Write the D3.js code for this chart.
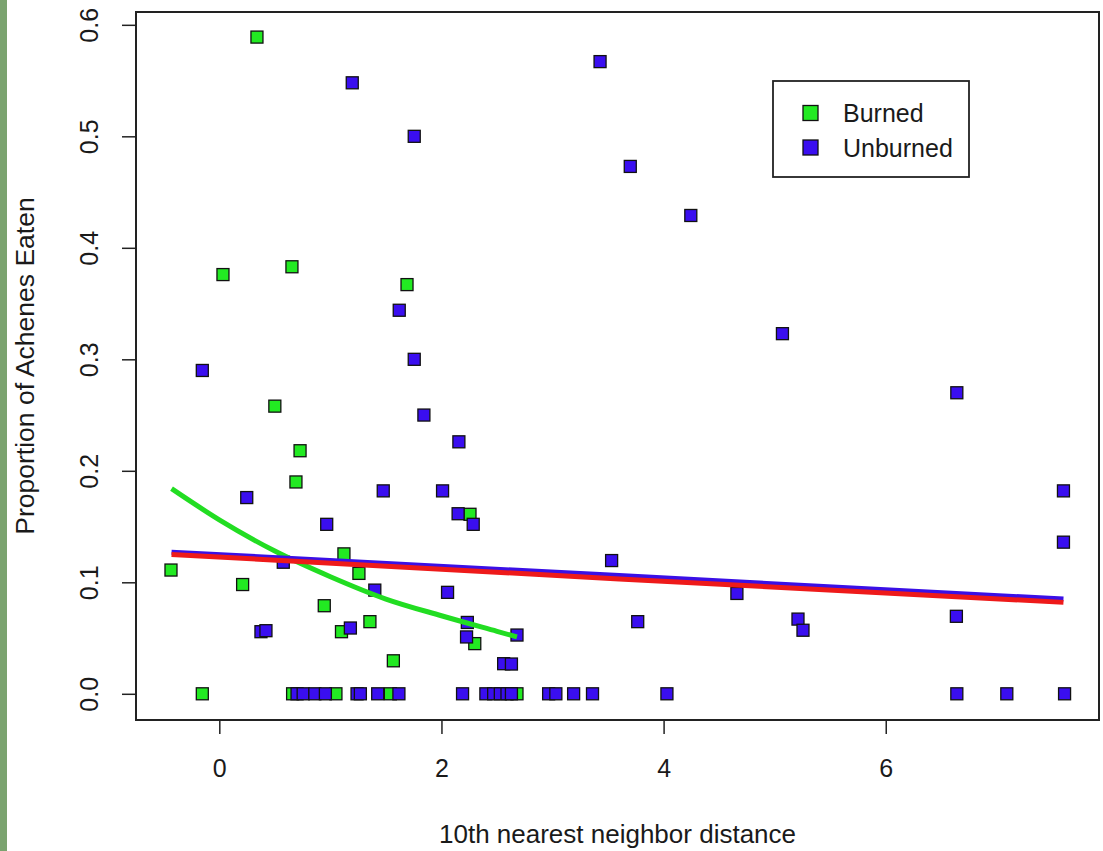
<!DOCTYPE html>
<html>
<head>
<meta charset="utf-8">
<script src="https://cdn.jsdelivr.net/npm/d3@7"></script>
<style>
  html, body { margin: 0; padding: 0; background: #ffffff; }
  svg text { font-family: "Liberation Sans", Arial, sans-serif; fill: #1a1a1a; }
</style>
</head>
<body>
<svg id="chart" width="1103" height="851"></svg>
<script>
// ---- data ----
const burnedX = [0.339, 0.033, 0.654, 1.69, 0.50, 0.727, 0.69, 2.257, 1.122, -0.435, 0.21, 1.257, 0.945, 1.10, 1.356, 1.567, 2.30,
                 -0.153, 0.66, 1.05, 1.54, 2.68];
const burnedY = [0.589, 0.376, 0.383, 0.367, 0.258, 0.218, 0.190, 0.161, 0.1255, 0.111, 0.098, 0.108, 0.079, 0.0557, 0.0647, 0.0296, 0.045,
                 0, 0, 0, 0, 0];

const unburnedX = [1.197, 1.755, 3.428, 3.70, 4.245, 5.07, 6.64, 1.62, 1.755, 1.842, -0.153, 2.157, 0.247, 1.476, 2.01, 2.15, 2.286, 0.967,
                   7.6, 7.6, 3.532, 0.576, 1.40, 2.055, 4.66, 0.375, 0.42, 1.18, 2.233, 2.226, 2.68, 3.767, 5.21, 5.255, 6.636, 2.56, 2.63,
                   0.70, 0.755, 0.86, 0.955, 1.24, 1.27, 1.426, 1.617, 2.19, 2.40, 2.47, 2.53, 2.59, 2.63, 2.965, 3.03, 3.19, 3.36, 4.03, 6.64, 7.09, 7.61];
const unburnedY = [0.548, 0.500, 0.567, 0.473, 0.429, 0.323, 0.270, 0.344, 0.300, 0.250, 0.290, 0.226, 0.176, 0.182, 0.182, 0.1615, 0.152, 0.152,
                   0.182, 0.136, 0.1195, 0.118, 0.093, 0.091, 0.090, 0.0557, 0.0566, 0.059, 0.064, 0.051, 0.0527, 0.0647, 0.067, 0.057, 0.0695, 0.027, 0.0267,
                   0, 0, 0, 0, 0, 0, 0, 0, 0, 0, 0, 0, 0, 0, 0, 0, 0, 0, 0, 0, 0, 0];

// fitted curves
const burnedFitX = [-0.43, 0.0, 0.5, 1.0, 1.5, 2.0, 2.5, 2.68];
const burnedFitY = [0.184, 0.156, 0.128, 0.105, 0.085, 0.070, 0.056, 0.051];
const unburnedFitX = [-0.43, 3.6, 7.6];
const unburnedFitY = [0.127, 0.106, 0.085];
const allFitX = [-0.43, 3.6, 7.6];
const allFitY = [0.125, 0.103, 0.082];

const xTicks = [0, 2, 4, 6];
const yTicks = [0.0, 0.1, 0.2, 0.3, 0.4, 0.5, 0.6];
const legendLabels = ["Burned", "Unburned"];

// ---- layout ----
const svg = d3.select("#chart");
const pL = 136, pR = 1099, pT = 12, pB = 720;
const x = d3.scaleLinear().domain([-0.75, 7.92]).range([pL, pR]);
const y = d3.scaleLinear().domain([-0.0235, 0.6115]).range([pB, pT]);

const greenFill = "#22ea22", blueFill = "#3a0ef0";

// left green strip
svg.append("rect").attr("x", 0).attr("y", 0).attr("width", 7).attr("height", 851).attr("fill", "#7ba36f");

// points
const sq = 12;
function drawPoints(xs, ys, fill) {
  svg.append("g").selectAll("rect").data(xs.map((d, i) => [d, ys[i]])).join("rect")
    .attr("x", d => x(d[0]) - sq / 2)
    .attr("y", d => y(d[1]) - sq / 2)
    .attr("width", sq).attr("height", sq)
    .attr("fill", fill).attr("stroke", "#111").attr("stroke-width", 1.3);
}
drawPoints(burnedX, burnedY, greenFill);
drawPoints(unburnedX, unburnedY, blueFill);

// fit lines
svg.append("path").datum(burnedFitX.map((d, i) => [d, burnedFitY[i]]))
  .attr("d", d3.line().x(d => x(d[0])).y(d => y(d[1])).curve(d3.curveMonotoneX))
  .attr("fill", "none").attr("stroke", "#22dd22").attr("stroke-width", 5);
svg.append("path").datum(unburnedFitX.map((d, i) => [d, unburnedFitY[i]]))
  .attr("d", d3.line().x(d => x(d[0])).y(d => y(d[1]))).attr("fill", "none").attr("stroke", "#3a10e6").attr("stroke-width", 5);
svg.append("path").datum(allFitX.map((d, i) => [d, allFitY[i]]))
  .attr("d", d3.line().x(d => x(d[0])).y(d => y(d[1]))).attr("fill", "none").attr("stroke", "#ee1a1a").attr("stroke-width", 5);

// box
svg.append("rect").attr("x", pL).attr("y", pT).attr("width", pR - pL).attr("height", pB - pT)
  .attr("fill", "none").attr("stroke", "#222").attr("stroke-width", 2);

// x axis
const xAxis = svg.append("g").attr("transform", `translate(0,${pB})`)
  .call(d3.axisBottom(x).tickValues(xTicks).tickFormat(d3.format("d")).tickSize(14).tickSizeOuter(0));
xAxis.select(".domain").remove();
xAxis.selectAll("line").attr("stroke", "#222").attr("stroke-width", 1.5);
xAxis.selectAll("text").attr("y", 57).attr("dy", 0).style("font-size", "25px")
  .style("font-family", '"Liberation Sans", Arial, sans-serif').attr("fill", "#1a1a1a");

// y axis
const yAxis = svg.append("g").attr("transform", `translate(${pL},0)`)
  .call(d3.axisLeft(y).tickValues(yTicks).tickFormat(d3.format(".1f")).tickSize(14).tickSizeOuter(0));
yAxis.select(".domain").remove();
yAxis.selectAll("line").attr("stroke", "#222").attr("stroke-width", 1.5);
yAxis.selectAll("text").attr("x", 0).attr("y", 0).attr("dy", 0)
  .attr("transform", "translate(-38,0) rotate(-90)").attr("text-anchor", "middle")
  .style("font-size", "25px").style("font-family", '"Liberation Sans", Arial, sans-serif').attr("fill", "#1a1a1a");

// axis titles
svg.append("text").attr("x", (pL + pR) / 2).attr("y", 843).attr("text-anchor", "middle")
  .style("font-size", "26px").text("10th nearest neighbor distance");
svg.append("text").attr("transform", `translate(34,${(pT + pB) / 2}) rotate(-90)`).attr("text-anchor", "middle")
  .style("font-size", "26.5px").text("Proportion of Achenes Eaten");

// legend
const lg = svg.append("g");
lg.append("rect").attr("x", 773).attr("y", 81).attr("width", 196).attr("height", 96)
  .attr("fill", "#fff").attr("stroke", "#222").attr("stroke-width", 1.8);
const legFills = [greenFill, blueFill];
legendLabels.forEach((lab, i) => {
  const cy = 113 + i * 34.5;
  lg.append("rect").attr("x", 803).attr("y", cy - 7.5).attr("width", 15).attr("height", 15)
    .attr("fill", legFills[i]).attr("stroke", "#111").attr("stroke-width", 1.3);
  lg.append("text").attr("x", 843).attr("y", cy + 9).style("font-size", "25px").text(lab);
});
</script>
</body>
</html>
